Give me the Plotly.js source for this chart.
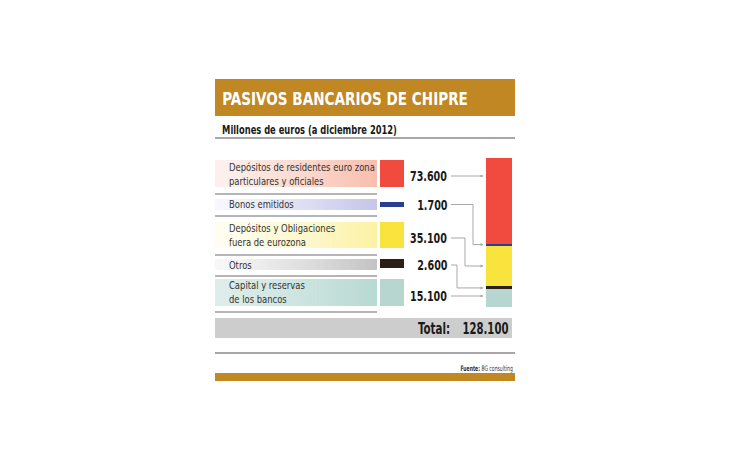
<!DOCTYPE html>
<html>
<head>
<meta charset="utf-8">
<script src="https://cdn.plot.ly/plotly-3.0.1.min.js"></script>
<style>html,body{margin:0;padding:0;background:#fff;}#chart{width:730px;height:460px;}</style>
</head>
<body>
<div id="chart"></div>
<script>
// ---------- DATA ----------
const title = 'PASIVOS BANCARIOS DE CHIPRE';
const subtitle = 'Millones de euros (a diciembre 2012)';
const categories = [
  'Depósitos de residentes euro zona<br>particulares y oficiales',
  'Bonos emitidos',
  'Depósitos y Obligaciones<br>fuera de eurozona',
  'Otros',
  'Capital y reservas<br>de los bancos'
];
const values = [73600, 1700, 35100, 2600, 15100];
const totalLabel = 'Total:';
const sourceBold = 'Fuente:';
const sourceText = 'BG consulting';

// ---------- STYLE / LAYOUT ----------
const colors = ['#f14b3f', '#2c3e92', '#f8e43d', '#2b2016', '#b7d6d0'];
const bgLeft  = ['#fdf0ec', '#f6f6fc', '#fffdf0', '#f7f7f7', '#deedea'];
const bgRight = ['#f8bfae', '#c6c5ea', '#fcf2a6', '#c4c4c4', '#b9d9d3'];
const rowBox  = [[160, 187], [199, 210], [222, 248], [259, 270], [279, 306]];
const swatchY = [[160, 187], [202, 207], [222, 248], [259, 268], [279, 306]];
const rowTextY = [174, 204.5, 235, 265, 292.5];
const valueY  = [176, 204.5, 238, 265, 296];
const elbowX  = [473, 473, 465, 457, 473];
const sepY = [194, 216, 255, 276, 312];
const BAR_TOP = 158, BAR_BOT = 307, BAR_L = 486, BAR_R = 512;

// pick an installed (preferably condensed) font
const cvs = document.createElement('canvas').getContext('2d');
function available(fam) {
  const s = 'mmmmmmmmmmlli WWW 0123456789 abcdefghij';
  for (const base of ['monospace', 'serif']) {
    cvs.font = '40px ' + base; const w0 = cvs.measureText(s).width;
    cvs.font = '40px "' + fam + '", ' + base;
    if (Math.abs(cvs.measureText(s).width - w0) > 0.01) return true;
  }
  return false;
}
const FAMS = ['Liberation Sans Narrow', 'DejaVu Sans Condensed', 'Arial Narrow', 'Roboto', 'Liberation Sans'];
const FAM = FAMS.find(available) || 'sans-serif';
function widthAt(text, size, bold) {
  cvs.font = (bold ? 'bold ' : '') + size + 'px "' + FAM + '", sans-serif';
  return cvs.measureText(text).width;
}
function fit(text, target, bold, maxSize) {
  return Math.min(maxSize, target * 100 / widthAt(text, 100, bold));
}

const W = 730, H = 460;
const px = x => x / W;
const py = y => 1 - y / H;

const TOTAL = values.reduce((a, b) => a + b, 0);
const fmt = n => String(n).replace(/\B(?=(\d{3})+(?!\d))/g, '.');

// ---------- TRACES ----------
const traces = values.map((v, i) => ({
  type: 'bar', x: ['T'], y: [v], width: [1],
  marker: { color: colors[i], line: { width: 0 } },
  hoverinfo: 'skip', showlegend: false
}));

// ---------- SHAPES ----------
const shapes = [];
const rect = (x0, y0, x1, y1, fill) => shapes.push({
  type: 'rect', xref: 'paper', yref: 'paper',
  x0: px(x0), x1: px(x1), y0: py(y1), y1: py(y0),
  fillcolor: fill, line: { width: 0 }, layer: 'below'
});
const line = (x0, y0, x1, y1, color, w) => shapes.push({
  type: 'line', xref: 'paper', yref: 'paper',
  x0: px(x0), x1: px(x1), y0: py(y0), y1: py(y1),
  line: { color: color, width: w }
});
function hex2rgb(h) { return [1, 3, 5].map(k => parseInt(h.substr(k, 2), 16)); }
function mix(a, b, t) {
  const A = hex2rgb(a), B = hex2rgb(b);
  return 'rgb(' + A.map((v, k) => Math.round(v + (B[k] - v) * t)).join(',') + ')';
}

rect(215, 79, 515, 116, '#c18722');
rowBox.forEach((b, i) => {
  const N = 40, x0 = 215, x1 = 377;
  for (let k = 0; k < N; k++) {
    const a = x0 + (x1 - x0) * k / N, c = x0 + (x1 - x0) * (k + 1) / N + 0.6;
    rect(a, b[0], Math.min(c, x1), b[1], mix(bgLeft[i], bgRight[i], Math.pow(k / (N - 1), 1.2)));
  }
});
swatchY.forEach((s, i) => rect(380, s[0], 404, s[1], colors[i]));
rect(215, 318, 512, 338, '#cdcdcd');
rect(215, 373, 515, 381, '#c18722');
line(215, 138, 515, 138, '#8a8a8a', 1.5);
sepY.forEach(y => line(215, y, 377, y, '#9d9d9d', 1.5));
line(215, 353, 515, 353, '#8a8a8a', 1.5);

const dataToPix = v => BAR_TOP + v / TOTAL * (BAR_BOT - BAR_TOP);
const annotations = [];
let cum = 0;
values.forEach((v, i) => {
  const top = dataToPix(cum), bot = dataToPix(cum + v);
  cum += v;
  const y0 = valueY[i];
  const col = '#a8a8a8';
  let yEnd;
  if (y0 >= top && y0 <= bot) {
    yEnd = y0;
    line(451, y0, 482, y0, col, 1);
  } else {
    yEnd = (top + bot) / 2;
    const ex = elbowX[i];
    line(451, y0, ex, y0, col, 1);
    line(ex, y0, ex, yEnd, col, 1);
    line(ex, yEnd, 482, yEnd, col, 1);
  }
  annotations.push({
    xref: 'paper', yref: 'paper', x: px(483.5), y: py(yEnd), text: '',
    showarrow: true, ax: -4, ay: 0, arrowhead: 2, arrowsize: 0.6,
    arrowwidth: 1, arrowcolor: col
  });
});

// ---------- TEXT ----------
const squeeze = [];
const ann = (x, y, text, size, color, xanchor, bold, targetW) => {
  annotations.push({
    xref: 'paper', yref: 'paper', x: px(x), y: py(y),
    text: bold ? '<b>' + text + '</b>' : text,
    showarrow: false, xanchor: xanchor, yanchor: 'middle',
    font: { family: FAM, size: size, color: color }, borderpad: 0
  });
  if (targetW) {
    const sx = Math.min(1, targetW / widthAt(text.replace(/<[^>]+>/g, ''), size, bold));
    squeeze.push({ idx: annotations.length - 1, sx: sx, anchor: xanchor });
  }
};
const sTitle = 17.5;
const sSub = 11.5;
const sLab = 11;
const sVal = 13.5;
const sTot = 15;
const sSrc = 7.5;

ann(221, 98.5, title, sTitle, '#ffffff', 'left', true, 246);
ann(221, 130, subtitle, sSub, '#1a1a1a', 'left', true, 175);
categories.forEach((c, i) => {
  annotations.push({
    xref: 'paper', yref: 'paper', x: px(228), y: py(rowTextY[i]),
    text: c, showarrow: false, xanchor: 'left', yanchor: 'middle', align: 'left',
    font: { family: FAM, size: sLab, color: '#333333' }, borderpad: 0
  });
  squeeze.push({ idx: annotations.length - 1, sx: Math.min(1, 146 / widthAt('Depósitos de residentes euro zona', sLab, false)), anchor: 'left' });
});
values.forEach((v, i) => ann(448, valueY[i], fmt(v), sVal, '#1a1a1a', 'right', true, widthAt(fmt(v), sVal, true) * 37 / widthAt('73.600', sVal, true)));
ann(451, 328.5, totalLabel, sTot, '#1a1a1a', 'right', true, 32);
ann(509, 328.5, fmt(TOTAL), sTot, '#1a1a1a', 'right', true, 46);
ann(514, 368, '<b>' + sourceBold + '</b> ' + sourceText, sSrc, '#333333', 'right', false, 50);

const layout = {
  width: W, height: H,
  margin: { l: 0, r: 0, t: 0, b: 0 },
  paper_bgcolor: '#ffffff', plot_bgcolor: 'rgba(0,0,0,0)',
  barmode: 'stack', bargap: 0,
  showlegend: false,
  xaxis: { domain: [px(BAR_L), px(BAR_R)], range: [-0.5, 0.5], type: 'category', visible: false, fixedrange: true },
  yaxis: { domain: [py(BAR_BOT), py(BAR_TOP)], range: [TOTAL, 0], visible: false, fixedrange: true },
  shapes: shapes,
  annotations: annotations
};
Plotly.newPlot('chart', traces, layout, { displayModeBar: false, staticPlot: true }).then(() => {
  squeeze.forEach(s => {
    const t = document.querySelector('#chart g.annotation[data-index="' + s.idx + '"] text.annotation-text');
    if (t) {
      t.style.transformBox = 'fill-box';
      t.style.transformOrigin = (s.anchor === 'right' ? 'right' : 'left') + ' center';
      t.style.transform = 'scaleX(' + s.sx.toFixed(4) + ')';
    }
  });
});
</script>
</body>
</html>
